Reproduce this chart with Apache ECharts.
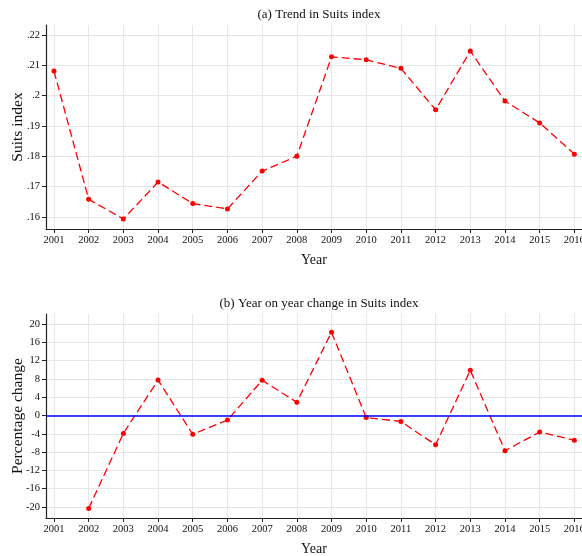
<!DOCTYPE html>
<html>
<head>
<meta charset="utf-8">
<script src="https://cdn.jsdelivr.net/npm/echarts@6/dist/echarts.min.js"></script>
<style>html,body{margin:0;padding:0;background:#fff}#c{width:582px;height:556px}</style>
</head>
<body>
<div id="c"></div>
<script>
const years = [2001,2002,2003,2004,2005,2006,2007,2008,2009,2010,2011,2012,2013,2014,2015,2016];
const suitsIndex = [0.2081,0.1658,0.1593,0.1715,0.1644,0.1626,0.1751,0.1800,0.2128,0.2118,0.2090,0.1953,0.2147,0.1982,0.1910,0.1807];
const pctChange = [null,-20.3,-3.9,7.75,-4.1,-1.0,7.7,2.9,18.2,-0.45,-1.3,-6.4,9.9,-7.7,-3.6,-5.4];
const topTicks = [0.16,0.17,0.18,0.19,0.20,0.21,0.22];
const bottomTicks = [-20,-16,-12,-8,-4,0,4,8,12,16,20];
const titleA = '(a) Trend in Suits index';
const titleB = '(b) Year on year change in Suits index';

const FONT = 'Liberation Serif';
const gridColor = '#e6e6e6';
const axisColor = '#222';

function xAxis(idx){
  return {
    type:'value', gridIndex: idx, min: 2000.77, max: 2016.22,
    name:'Year', nameLocation:'middle', nameGap: 24, nameMoveOverlap:false,
    nameTextStyle:{fontFamily:FONT,fontSize:14,color:'#111'},
    axisLine:{show:true,onZero:false,lineStyle:{color:axisColor,width:1.2}},
    axisTick:{show:true,length:4,customValues:years,lineStyle:{color:axisColor}},
    axisLabel:{customValues:years,fontFamily:FONT,fontSize:10.5,color:'#111',margin:6,hideOverlap:false,formatter:v=>String(Math.round(v))},
    splitLine:{show:true,lineStyle:{color:gridColor,width:1}}
  };
}
function yAxis(idx, name, min, max, ticks, fmt){
  return {
    type:'value', gridIndex: idx, min:min, max:max,
    name:name, nameLocation:'middle', nameGap: 20, nameRotate: 90, nameMoveOverlap:false,
    nameTextStyle:{fontFamily:FONT,fontSize:15.5,color:'#111'},
    axisLine:{show:true,onZero:false,lineStyle:{color:axisColor,width:1.2}},
    axisTick:{show:true,length:4,customValues:ticks,lineStyle:{color:axisColor}},
    axisLabel:{customValues:ticks,fontFamily:FONT,fontSize:10.5,color:'#111',margin:6,formatter:fmt},
    splitLine:{show:true,lineStyle:{color:gridColor,width:1}}
  };
}
const fmtTop = v => { let s = (Math.round(v*100)/100).toString(); return s.replace(/^0/,''); };
const fmtBot = v => String(Math.round(v));

const chart = echarts.init(document.getElementById('c'), null, {renderer:'canvas'});
chart.setOption({
  animation:false,
  backgroundColor:'#fff',
  title:[
    {text:titleA,left:314,top:3,textAlign:'center',textStyle:{fontFamily:FONT,fontSize:13,fontWeight:'normal',color:'#111'}},
    {text:titleB,left:314,top:292,textAlign:'center',textStyle:{fontFamily:FONT,fontSize:13,fontWeight:'normal',color:'#111'}}
  ],
  grid:[
    {left:46,right:0,top:25,height:204,containLabel:false,outerBoundsMode:'none'},
    {left:46,right:0,top:314,height:204,containLabel:false,outerBoundsMode:'none'}
  ],
  xAxis:[xAxis(0),xAxis(1)],
  yAxis:[
    yAxis(0,'Suits index',0.156,0.2233,topTicks,fmtTop),
    yAxis(1,'Percentage change',-22.4,22.2,bottomTicks,fmtBot)
  ],
  series:[
    {type:'line',xAxisIndex:0,yAxisIndex:0,data:years.map((y,i)=>[y,suitsIndex[i]]),
     symbol:'circle',symbolSize:5,itemStyle:{color:'#ff0000'},
     lineStyle:{color:'#ff0000',width:1.3,type:[8,4]}},
    {type:'line',xAxisIndex:1,yAxisIndex:1,data:years.map((y,i)=>[y,pctChange[i]]),
     symbol:'circle',symbolSize:5,itemStyle:{color:'#ff0000'},
     lineStyle:{color:'#ff0000',width:1.3,type:[8,4]},
     markLine:{silent:true,symbol:['none','none'],label:{show:false},
       lineStyle:{color:'#0000ff',width:1.5,type:'solid'},data:[{yAxis:0}]},
     z:3}
  ]
});
</script>
</body>
</html>
